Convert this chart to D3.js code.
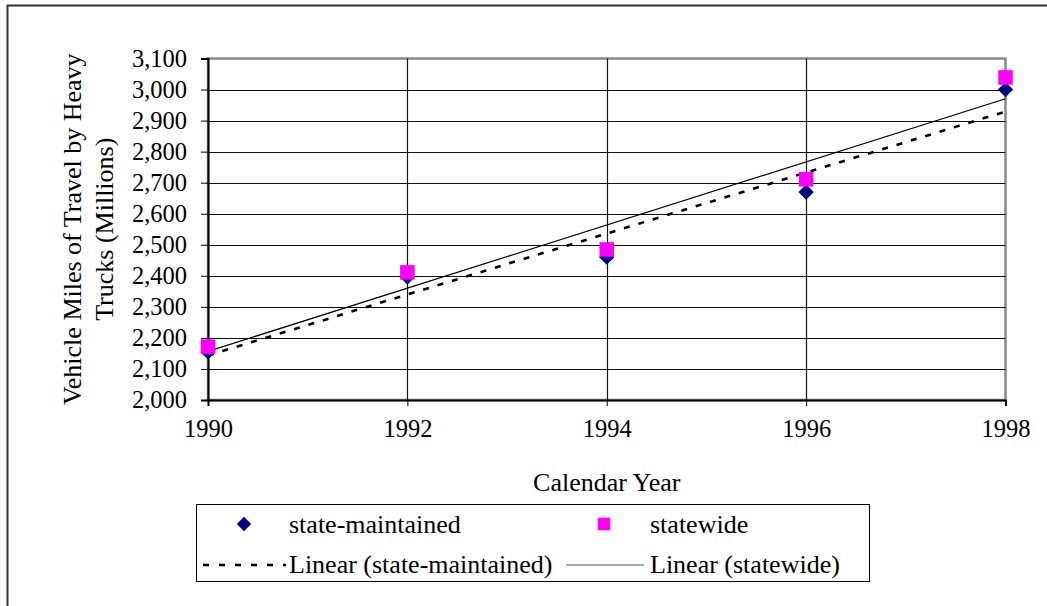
<!DOCTYPE html>
<html>
<head>
<meta charset="utf-8">
<script src="https://cdn.jsdelivr.net/npm/d3@7"></script>
<style>
  body { margin: 0; background: #fff; }
  text { font-family: "Liberation Serif", "Times New Roman", serif; fill: #000; }
</style>
</head>
<body>
<svg id="chart" width="1047" height="606"></svg>
<script>
// data
const years = [1990, 1992, 1994, 1996, 1998];
const stateMaintained = [2155, 2396, 2460, 2670, 3000];
const statewide = [2172, 2411, 2485, 2711, 3039];
const yTicks = [2000, 2100, 2200, 2300, 2400, 2500, 2600, 2700, 2800, 2900, 3000, 3100];
const xTicks = [1990, 1992, 1994, 1996, 1998];
const yTitle = ["Vehicle Miles of Travel by Heavy", "Trucks (Millions)"];
const xTitle = "Calendar Year";

const width = 1047, height = 606
const margin = {left: 208, right: 41.5, top: 58.5, bottom: 206}
const tickFont = 24.5
const titleFont = 26

const svg = d3.select("#chart")

// outer chart border (runs off the right and bottom edge)
svg.append("rect")
  .attr("x", 7.5).attr("y", 5.5)
  .attr("width", 1100).attr("height", 700)
  .attr("fill", "none").attr("stroke", "#333").attr("stroke-width", 2)

const x = d3.scaleLinear()
  .domain([1990, 1998])
  .range([margin.left, width - margin.right])

const y = d3.scaleLinear()
  .domain([2000, 3100])
  .range([height - margin.bottom, margin.top])

// least squares fit for the trendlines
function linearFit(xs, ys) {
  const mx = d3.mean(xs), my = d3.mean(ys)
  const slope = d3.sum(xs, (v, i) => (v - mx) * (ys[i] - my)) / d3.sum(xs, v => (v - mx) * (v - mx))
  return v => my + slope * (v - mx)
}

// plot area frame
svg.append("rect")
  .attr("x", x(1990)).attr("y", y(3100))
  .attr("width", x(1998) - x(1990)).attr("height", y(2000) - y(3100))
  .attr("fill", "none").attr("stroke", "#888").attr("stroke-width", 2.5)

// horizontal gridlines
svg.append("g")
  .selectAll("line")
  .data(yTicks.slice(1, -1))
  .enter()
  .append("line")
  .attr("x1", x(1990)).attr("x2", x(1998))
  .attr("y1", d => Math.round(y(d)) + 0.5).attr("y2", d => Math.round(y(d)) + 0.5)
  .attr("stroke", "#111").attr("stroke-width", 1.2)

// vertical gridlines
svg.append("g")
  .selectAll("line")
  .data(xTicks.slice(1, -1))
  .enter()
  .append("line")
  .attr("x1", d => Math.round(x(d)) + 0.5).attr("x2", d => Math.round(x(d)) + 0.5)
  .attr("y1", y(3100)).attr("y2", y(2000))
  .attr("stroke", "#111").attr("stroke-width", 1.2)

// y axis
const yAxis = svg.append("g")
  .attr("transform", `translate(${x(1990)},0)`)
  .call(d3.axisLeft(y).tickValues(yTicks).tickFormat(d3.format(",")).tickSize(7).tickPadding(14))
yAxis.select(".domain").attr("stroke", "#000").attr("stroke-width", 2)
yAxis.selectAll(".tick line").attr("stroke", "#000")
yAxis.selectAll("text").attr("font-size", tickFont).attr("font-family", "Liberation Serif")

// x axis
const xAxis = svg.append("g")
  .attr("transform", `translate(0,${y(2000)})`)
  .call(d3.axisBottom(x).tickValues(xTicks).tickFormat(d3.format("d")).tickSize(6).tickPadding(14))
xAxis.select(".domain").attr("stroke", "#000").attr("stroke-width", 2)
xAxis.selectAll(".tick line").attr("stroke", "#000")
xAxis.selectAll("text").attr("font-size", tickFont).attr("font-family", "Liberation Serif")

// axis titles
svg.append("text")
  .attr("x", (x(1990) + x(1998)) / 2)
  .attr("y", 491)
  .attr("text-anchor", "middle")
  .attr("font-size", titleFont)
  .text(xTitle)

const yt = svg.append("text")
  .attr("transform", `translate(81,${(y(2000) + y(3100)) / 2}) rotate(-90)`)
  .attr("text-anchor", "middle")
  .attr("font-size", titleFont)
yt.selectAll("tspan")
  .data(yTitle)
  .enter()
  .append("tspan")
  .attr("x", 0)
  .attr("dy", (d, i) => i === 0 ? 0 : 32)
  .text(d => d)

// trendlines
const fitState = linearFit(years, stateMaintained)
const fitWide = linearFit(years, statewide)
const trendLine = d3.line().x(d => x(d[0])).y(d => y(d[1]))

svg.append("path")
  .attr("d", trendLine([[1990, fitWide(1990)], [1998, fitWide(1998)]]))
  .attr("fill", "none").attr("stroke", "#000").attr("stroke-width", 1.2)

svg.append("path")
  .attr("d", trendLine([[1990, fitState(1990)], [1998, fitState(1998)]]))
  .attr("fill", "none").attr("stroke", "#000").attr("stroke-width", 2.6)
  .attr("stroke-dasharray", "6,9")

// markers
const diamond = d3.symbol().type(d3.symbolDiamond2).size(150)
const square = d3.symbol().type(d3.symbolSquare2).size(270)

svg.append("g")
  .selectAll("path")
  .data(years)
  .enter()
  .append("path")
  .attr("d", diamond)
  .attr("transform", (d, i) => `translate(${x(d)},${y(stateMaintained[i])})`)
  .attr("fill", "#000080")

svg.append("g")
  .selectAll("path")
  .data(years)
  .enter()
  .append("path")
  .attr("d", square)
  .attr("transform", (d, i) => `translate(${x(d)},${y(statewide[i])})`)
  .attr("fill", "#ff00ff")

// legend
const legend = svg.append("g")
legend.append("rect")
  .attr("x", 196.5).attr("y", 504.5)
  .attr("width", 673).attr("height", 77)
  .attr("fill", "#fff").attr("stroke", "#000").attr("stroke-width", 1)

legend.append("path")
  .attr("d", d3.symbol().type(d3.symbolDiamond2).size(130))
  .attr("transform", "translate(244,524)")
  .attr("fill", "#000080")
legend.append("path")
  .attr("d", d3.symbol().type(d3.symbolSquare2).size(200))
  .attr("transform", "translate(604,524)")
  .attr("fill", "#ff00ff")
legend.append("line")
  .attr("x1", 203).attr("x2", 286).attr("y1", 565).attr("y2", 565)
  .attr("stroke", "#000").attr("stroke-width", 2.6).attr("stroke-dasharray", "6,10")
legend.append("line")
  .attr("x1", 566).attr("x2", 644).attr("y1", 565).attr("y2", 565)
  .attr("stroke", "#555").attr("stroke-width", 1.2)

const legendText = [
  ["state-maintained", 289, 533],
  ["statewide", 650, 533],
  ["Linear (state-maintained)", 289, 573],
  ["Linear (statewide)", 650, 573]
]
legend.selectAll("text.lab")
  .data(legendText)
  .enter()
  .append("text")
  .attr("class", "lab")
  .attr("x", d => d[1]).attr("y", d => d[2])
  .attr("font-size", titleFont)
  .text(d => d[0])
</script>
</body>
</html>
